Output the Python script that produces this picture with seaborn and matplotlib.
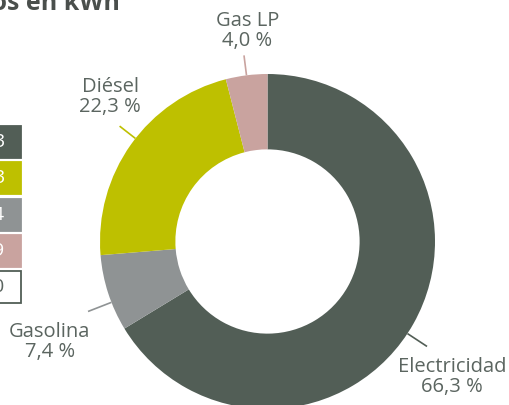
import numpy as np
import matplotlib
matplotlib.use("Agg")
import matplotlib.pyplot as plt
from matplotlib.patches import Rectangle
import seaborn as sns

# ---- data ----
categories = ["Electricidad", "Gasolina", "Diésel", "Gas LP"]
shares = [66.3, 7.4, 22.3, 4.0]
label_texts = ["Electricidad\n66,3 %", "Gasolina\n7,4 %", "Diésel\n22,3 %", "Gas LP\n4,0 %"]
table_digits = ["3", "3", "4", "9", "0"]
title_text = "Consumos en kWh"

# ---- style ----
sns.set_theme(style="white")
plt.rcParams["font.family"] = ["Open Sans", "DejaVu Sans"]
colors = sns.color_palette(["#525e56", "#8f9394", "#bec000", "#c9a39f"])
text_color = "#5b6560"

W, H = 510, 405
fig = plt.figure(figsize=(W / 100, H / 100), dpi=100)
fig.patch.set_facecolor("white")

# pie geometry in pixels (center, radius)
cx, cy, R = 267.5, 241.5, 167.5
side = 2.5 * R
ax = fig.add_axes([(cx - side / 2) / W, (H - cy - side / 2) / H, side / W, side / H])

wedges, _ = ax.pie(shares, colors=colors, startangle=90, counterclock=False,
                   radius=1.0, wedgeprops=dict(width=0.45, linewidth=0))
ax.set_aspect("equal")

# label layout (data units relative to pie radius) and leader-line angle offsets
label_pos = [(1.10, -0.81), (-1.30, -0.60), (-0.94, 0.86), (-0.12, 1.257)]
angle_off = [-4.0, 3.3, -2.5, 0.0]
line_r = [(1.0, 1.14), (1.0, 1.15), (1.0, 1.12), (1.0, 1.12)]

for w, txt, pos, off, (r1, r2), col in zip(wedges, label_texts, label_pos, angle_off, line_r, colors):
    mid = np.deg2rad((w.theta1 + w.theta2) / 2 + off)
    ax.plot([r1 * np.cos(mid), r2 * np.cos(mid)], [r1 * np.sin(mid), r2 * np.sin(mid)],
            color=col, lw=1.2, clip_on=False, solid_capstyle="butt")
    ax.text(pos[0], pos[1], txt, ha="center", va="center", fontsize=14.5,
            color=text_color, linespacing=1.0)

# cropped table boxes at the left edge
box_rows = [(126, 158), (162, 194), (199, 231), (235, 267), (271, 303)]
box_fill = ["#525e56", "#bec000", "#8f9394", "#c9a39f", "white"]
for (y0, y1), fc, d in zip(box_rows, box_fill, table_digits):
    edge = "#525e56" if fc == "white" else fc
    fig.add_artist(Rectangle((-40 / W, (H - y1) / H), 60.5 / W, (y1 - y0) / H,
                             transform=fig.transFigure, facecolor=fc, edgecolor=edge,
                             lw=1.3))
    fig.text(4 / W, (H - (y0 + y1) / 2) / H, d, ha="right", va="center",
             fontsize=14, color="white" if fc != "white" else text_color)

# cropped title
fig.text(120 / W, (H - 10) / H, title_text, ha="right", va="baseline",
         fontsize=18, fontweight="bold", color="#4a4f4c")

fig.savefig("out.png", dpi=100)
